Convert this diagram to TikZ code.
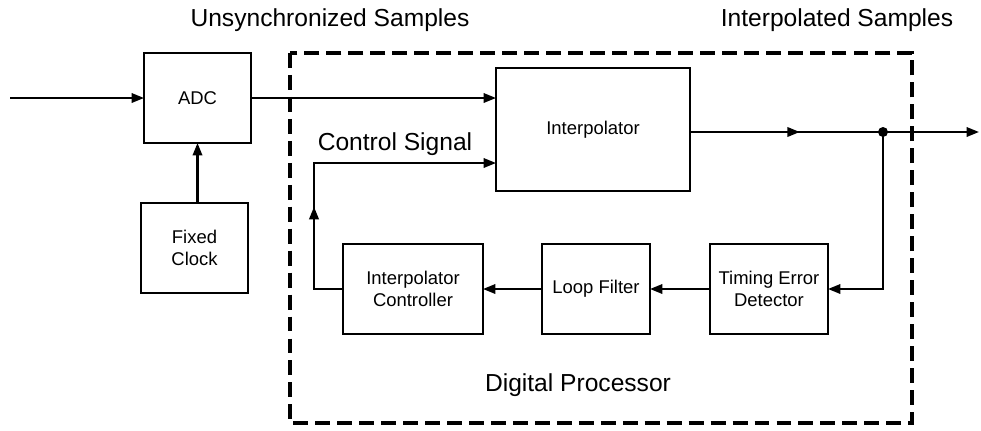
\documentclass[tikz,border=0pt]{standalone}
\usepackage{fontspec}
\setmainfont{Liberation Sans}
\usetikzlibrary{arrows.meta,positioning,decorations.markings}

\begin{document}
\begin{tikzpicture}[x=0.02cm,y=-0.02cm,
    blk/.style={rectangle,draw,line width=1pt,inner sep=0pt,outer sep=0pt,align=center,font=\fontsize{10.5}{12.5}\selectfont},
    lbl/.style={inner sep=0pt,font=\fontsize{14}{16}\selectfont},
    conn/.style={line width=1.2pt},
    arr/.style={conn,-{Triangle[length=2.5mm,width=1.9mm]}},
    midarr/.style={postaction={decorate,decoration={markings,mark=at position #1 with {\arrow{Triangle[length=2.5mm,width=1.9mm]}}}}},
]
\useasboundingbox (0,0) rectangle (981,430);

% Digital processor frame
\draw[line width=2pt,dash pattern=on 8.5pt off 4pt] (290,53) rectangle (912,423);

% Front end
\node[blk,minimum width=2.14cm,minimum height=1.8cm] (adc) at (197.5,98) {ADC};
\node[blk,minimum width=2.14cm,minimum height=1.8cm] (clk) at (194.5,248) {Fixed\\Clock};

% Processor blocks
\node[blk,minimum width=3.88cm,minimum height=2.46cm] (interp) at (593,129.5) {Interpolator};
\node[blk,minimum width=2.8cm,minimum height=1.8cm] (ctrl) at (413,289) {Interpolator\\Controller};
\node[blk,minimum width=2.16cm,minimum height=1.8cm] (lf) at (596,289) {Loop Filter};
\node[blk,minimum width=2.36cm,minimum height=1.8cm] (ted) at (769,289) {Timing Error\\Detector};

% Labels
\node[lbl] (unsync) at (330,20) {Unsynchronized Samples};
\node[lbl] (isamp) at (837,20) {Interpolated Samples};
\node[lbl] (csig) at (395,144) {Control Signal};
\node[lbl] (dproc) at (578,385) {Digital Processor};

% Helper points
\coordinate (in) at (10,98);
\coordinate (out) at (979,132);
\coordinate (dot) at (883,132);
\coordinate (cs) at (314,163);

% Arrows
\draw[arr] (in) -- (adc);
\draw[arr] (clk.north -| adc.south) -- (adc.south);
\draw[arr] (adc.east) -- (adc.east -| interp.west);
\draw[arr,midarr=0.38] (dot -| interp.east) -- (out);
\fill (dot) circle (1mm);
\draw[arr] (dot) |- (ted.east);
\draw[arr] (ted) -- (lf);
\draw[arr] (lf) -- (ctrl);
\draw[arr,midarr=0.33] (ctrl.west) -- (ctrl.west -| cs) -- (cs) -- (cs -| interp.west);
\end{tikzpicture}
\end{document}
